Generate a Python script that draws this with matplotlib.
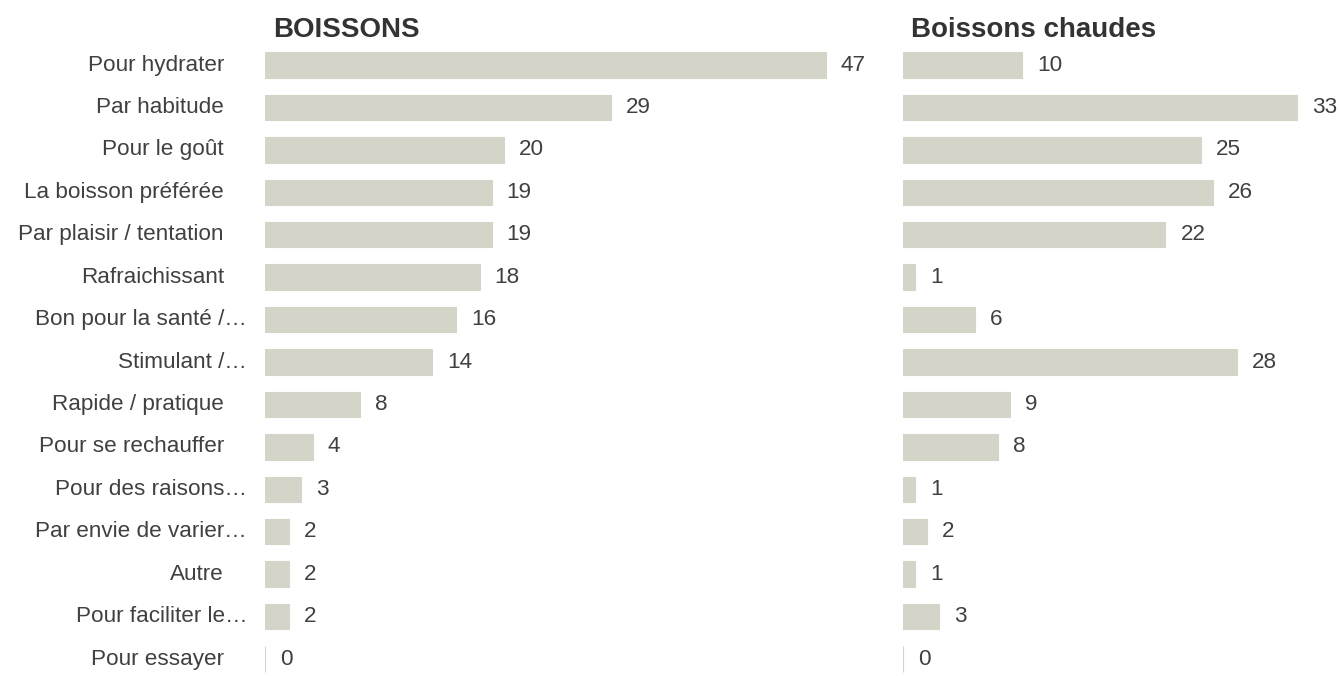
import matplotlib
matplotlib.use('Agg')
import matplotlib.pyplot as plt
import matplotlib.transforms as mtransforms

plt.rcParams['font.family'] = ['Liberation Sans', 'DejaVu Sans']

# données
categories = ['Pour hydrater', 'Par habitude', 'Pour le goût', 'La boisson préférée',
              'Par plaisir / tentation', 'Rafraichissant', 'Bon pour la santé /…',
              'Stimulant /…', 'Rapide / pratique', 'Pour se rechauffer',
              'Pour des raisons…', 'Par envie de varier…', 'Autre',
              'Pour faciliter le…', 'Pour essayer']
boissons = [47, 29, 20, 19, 19, 18, 16, 14, 8, 4, 3, 2, 2, 2, 0]
boissons_chaudes = [10, 33, 25, 26, 22, 1, 6, 28, 9, 8, 1, 2, 1, 3, 0]
titles = ['BOISSONS', 'Boissons chaudes']

BAR = '#d4d4c8'
TXT = '#404040'
W, H = 1339, 676
FS = 16.2

fig = plt.figure(figsize=(W / 100, H / 100), dpi=100)
row = 42.43
top_px = 65 - 0.5 * row
bot_px = top_px + 15 * row
scale = 11.93  # px par unité

def make_ax(left_px, xmax):
    width_px = xmax * scale
    return fig.add_axes([left_px / W, 1 - bot_px / H, width_px / W, (bot_px - top_px) / H])

ax1 = make_ax(265, 52)
ax2 = make_ax(903, 36)

for ax, vals, title, xmax in [(ax1, boissons, titles[0], 52), (ax2, boissons_chaudes, titles[1], 36)]:
    y = list(range(len(vals)))
    ax.barh(y, vals, height=0.60, color=BAR, edgecolor=BAR, linewidth=0.8)
    ax.set_ylim(len(vals) - 0.5, -0.5)
    ax.set_xlim(0, xmax)
    for yi, v in zip(y, vals):
        ax.annotate(str(v), (v, yi), xytext=(15, 0), textcoords='offset pixels',
                    ha='left', va='center', fontsize=FS, color=TXT, annotation_clip=False)
    for s in ax.spines.values():
        s.set_visible(False)
    ax.set_xticks([])
    ax.set_yticks([])
    ax.text(0, 1, title, transform=ax.transAxes + mtransforms.ScaledTranslation(8 / 100, 7 / 100, fig.dpi_scale_trans),
            ha='left', va='baseline', fontsize=20, fontweight='bold', color='#333333')

# étiquettes des catégories
for yi, lab in enumerate(categories):
    dx = -41 if not lab.endswith('…') else -18
    ax1.annotate(lab, (0, yi), xytext=(dx, 0), textcoords='offset pixels',
                 ha='right', va='center', fontsize=FS, color=TXT, annotation_clip=False)

fig.savefig('out.png', dpi=100)
